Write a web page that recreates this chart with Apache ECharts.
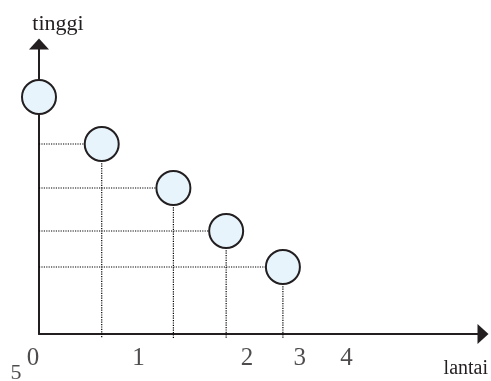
<!DOCTYPE html>
<html>
<head>
<meta charset="utf-8">
<script src="https://cdn.jsdelivr.net/npm/echarts@6/dist/echarts.min.js"></script>
<style>html,body{margin:0;padding:0;background:#fff}#c{width:491px;height:381px}</style>
</head>
<body>
<div id="c"></div>
<script>
// circle positions (x = horizontal position, y = height)
const ballX = [0, 6.3, 13.5, 18.8, 24.5];
const ballY = [23.7, 19.0, 14.6, 10.3, 6.7];
// loose number labels under the axis
const labelText = ['0', '1', '2', '3', '4', '5'];
const labelX = [-0.6, 10.0, 20.9, 26.2, 30.9, -2.3];
const labelY = [-2.4, -2.4, -2.4, -2.4, -2.4, -3.9];
const labelSize = [25, 25, 25, 25, 25, 22];
const dropBottom = -0.45;

const ink = '#231f20';
const arrowPath = 'path://M10,0L20,11L0,11Z';
const series = [];
for (let i = 1; i < ballX.length; i++) {
  series.push({
    type: 'line', silent: true, symbol: 'none', clip: false,
    lineStyle: {color: '#000', width: 1.2, type: [1.2, 1.2]},
    data: [[0, ballY[i]], [ballX[i], ballY[i]]]
  });
  series.push({
    type: 'line', silent: true, symbol: 'none', clip: false,
    lineStyle: {color: '#000', width: 1.2, type: [1.2, 1.2]},
    data: [[ballX[i], ballY[i]], [ballX[i], dropBottom]]
  });
}
series.push({
  type: 'scatter', clip: false, symbol: 'circle', symbolSize: 34, z: 5,
  itemStyle: {color: '#e8f4fb', borderColor: ink, borderWidth: 2, opacity: 1},
  data: ballX.map((x, i) => [x, ballY[i]])
});
series.push({
  type: 'scatter', clip: false, symbolSize: 0, z: 6,
  data: labelText.map((t, i) => ({
    value: [labelX[i], labelY[i]], name: t,
    label: {show: true, position: 'inside', formatter: t, color: ink,
      fontFamily: 'Liberation Serif', fontSize: labelSize[i]}
  }))
});

const chart = echarts.init(document.getElementById('c'));
chart.setOption({
  animation: false,
  grid: {left: 39, right: 6, top: 44, bottom: 47, containLabel: false},
  xAxis: {
    type: 'value', min: 0, max: 44.6,
    axisLine: {show: true, onZero: false, symbol: ['none', arrowPath], symbolSize: [20, 11],
      lineStyle: {color: ink, width: 2}},
    axisTick: {show: false}, axisLabel: {show: false}, splitLine: {show: false},
    name: 'lantai', nameLocation: 'end', nameGap: 5,
    nameTextStyle: {fontFamily: 'Liberation Serif', fontSize: 20, color: ink,
      align: 'right', verticalAlign: 'top', padding: [25, 0, 0, 0]}
  },
  yAxis: {
    type: 'value', min: 0, max: 29.0,
    axisLine: {show: true, onZero: false, symbol: ['none', arrowPath], symbolSize: [20, 11],
      lineStyle: {color: ink, width: 2}},
    axisTick: {show: false}, axisLabel: {show: false}, splitLine: {show: false},
    name: 'tinggi', nameLocation: 'end', nameGap: 9,
    nameTextStyle: {fontFamily: 'Liberation Serif', fontSize: 22, color: ink,
      align: 'center', padding: [0, 0, 0, 38]}
  },
  series: series
});
</script>
</body>
</html>
